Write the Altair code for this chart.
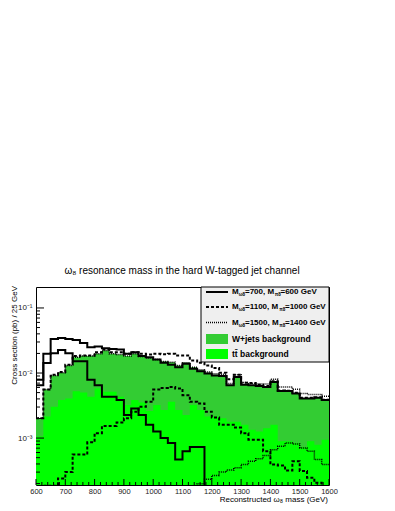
import altair as alt
import pandas as pd

# ---------------- data ----------------
bin_edges = list(range(600, 1625, 25))  # 40 bins of 25 GeV

wjets_total = [2.02e-3, 5.57e-3, 9.2e-3, 0.0101, 0.0131, 0.0175, 0.0182, 0.0182, 0.0197, 0.0221,
               0.0197, 0.0192, 0.0182, 0.0197, 0.0179, 0.0169, 0.0161, 0.0151, 0.0147, 0.0131,
               0.0144, 0.0123, 0.0110, 0.0101, 9.4e-3, 9.2e-3, 6.5e-3, 9.0e-3, 6.6e-3, 6.5e-3,
               6.3e-3, 6.1e-3, 7.3e-3, 5.3e-3, 5.3e-3, 4.85e-3, 4.06e-3, 4.06e-3, 4.16e-3, 3.84e-3]

ttbar = [1.06e-3, 2.14e-3, 3.03e-3, 3.84e-3, 4.06e-3, 5.26e-3, 5.02e-3, 4.31e-3, 5.77e-3, 5.14e-3,
         5.14e-3, 4.31e-3, 3.22e-3, 3.84e-3, 3.53e-3, 2.61e-3, 3.22e-3, 2.70e-3, 3.61e-3, 2.70e-3,
         2.27e-3, 3.22e-3, 2.70e-3, 2.14e-3, 2.14e-3, 2.02e-3, 1.79e-3, 1.79e-3, 1.60e-3, 1.34e-3,
         1.26e-3, 1.42e-3, 1.60e-3, 8.9e-4, 8.9e-4, 8.4e-4, 7.2e-4, 8.9e-4, 7.9e-4, 9.4e-4]

sig700_plus_bkg = [7.9e-3, 0.0197, 0.0333, 0.0345, 0.0333, 0.0322, 0.0290, 0.0249, 0.0255, 0.0240,
                   0.0235, 0.0229, 0.0197, 0.0209, 0.0182, 0.0175, 0.0161, 0.0144, 0.0134, 0.0123,
                   0.0139, 0.0116, 0.0106, 9.8e-3, 9.2e-3, 9.0e-3, 6.5e-3, 8.7e-3, 6.6e-3, 6.5e-3,
                   6.3e-3, 6.1e-3, 7.3e-3, 5.3e-3, 5.3e-3, 4.85e-3, 4.06e-3, 4.06e-3, 4.16e-3, 3.84e-3]

sig1100_plus_bkg = [2.02e-3, 5.57e-3, 9.4e-3, 0.0104, 0.0134, 0.0182, 0.0186, 0.0186, 0.0209, 0.0229,
                    0.0209, 0.0209, 0.0197, 0.0209, 0.0197, 0.0192, 0.0197, 0.0195, 0.0197, 0.0186,
                    0.0186, 0.0156, 0.0144, 0.0131, 0.0119, 0.0101, 8.0e-3, 9.4e-3, 7.1e-3, 7.0e-3,
                    6.6e-3, 6.3e-3, 7.5e-3, 5.4e-3, 5.35e-3, 4.96e-3, 4.16e-3, 4.16e-3, 4.25e-3, 3.88e-3]

sig1500_plus_bkg = [2.02e-3, 5.57e-3, 9.2e-3, 0.0101, 0.0131, 0.0175, 0.0182, 0.0182, 0.0197, 0.0221,
                    0.0197, 0.0192, 0.0182, 0.0197, 0.0179, 0.0169, 0.0161, 0.0151, 0.0147, 0.0131,
                    0.0144, 0.0123, 0.01124, 0.01036, 9.77e-3, 9.55e-3, 6.89e-3, 9.44e-3, 7.13e-3, 6.89e-3,
                    6.80e-3, 6.80e-3, 8.01e-3, 6.12e-3, 6.12e-3, 5.64e-3, 4.84e-3, 4.67e-3, 4.67e-3, 4.41e-3]

sig700 = [6.49e-3, 0.0142, 0.0202, 0.0226, 0.0202, 0.0152, 0.0152, 7.91e-3, 6.49e-3, 4.31e-3,
          4.31e-3, 3.84e-3, 2.27e-3, 2.86e-3, 2.27e-3, 1.60e-3, 1.26e-3, 1.0e-3, 8.39e-4, 4.68e-4,
          6.27e-4, 7.3e-4, 7.3e-4, 1e-6, 1e-6, 1e-6, 1e-6, 1e-6, 1e-6, 1e-6,
          1e-6, 1e-6, 1e-6, 1e-6, 1e-6, 1e-6, 1e-6, 1e-6, 1e-6, 1e-6]

sig1100 = [1e-6, 1.85e-4, 1.85e-4, 2.40e-4, 3.00e-4, 5.57e-4, 5.57e-4, 8.59e-4, 1.19e-3, 1.54e-3,
           1.54e-3, 1.73e-3, 2.02e-3, 2.55e-3, 3.03e-3, 3.61e-3, 5.57e-3, 5.91e-3, 6.12e-3, 5.77e-3,
           4.57e-3, 3.61e-3, 3.41e-3, 2.55e-3, 2.07e-3, 1.60e-3, 1.60e-3, 1.45e-3, 1.19e-3, 9.44e-4,
           9.44e-4, 6.27e-4, 3.93e-4, 3.79e-4, 3.18e-4, 4.41e-4, 3.11e-4, 2.46e-4, 2.06e-4, 1e-6]

sig1500 = [1e-6, 1e-6, 1e-6, 1e-6, 1e-6, 1e-6, 1e-6, 1e-6, 1e-6, 1e-6,
           1e-6, 1e-6, 1e-6, 1e-6, 1e-6, 1e-6, 1e-6, 1e-6, 1e-6, 1e-6,
           1e-6, 1e-6, 1.99e-4, 2.32e-4, 2.67e-4, 3.00e-4, 3.22e-4, 3.49e-4, 3.93e-4, 4.41e-4,
           4.79e-4, 5.38e-4, 6.64e-4, 7.46e-4, 8.39e-4, 8.11e-4, 7.04e-4, 6.27e-4, 4.68e-4, 3.93e-4]

x_ticks = [600, 700, 800, 900, 1000, 1100, 1200, 1300, 1400, 1500, 1600]
y_ticks = [1e-3, 1e-2, 1e-1]

legend_labels = ["W+jets background", "tt\u0304 background"]

# ---------------- layout ----------------
W, H = 293, 198
Y_DOM = [1.9e-4, 0.21]
FONT = "Liberation Sans"

xs = alt.Scale(domain=[600, 1600], nice=False, zero=False)
ys = alt.Scale(type="log", domain=Y_DOM, nice=False)

x_axis = alt.Axis(values=x_ticks, title=None, ticks=False, tickSize=0, domain=False, grid=False,
                  format="d", labelFontSize=7.5, labelFont=FONT, labelColor="#222", labelPadding=2,
                  labelFlush=False)
y_axis = alt.Axis(values=y_ticks, title=None, ticks=False, tickSize=0, domain=False, grid=False,
                  labelFontSize=8, labelFont=FONT, labelColor="#222", labelPadding=4,
                  labelExpr="datum.value < 0.005 ? '10⁻³' : (datum.value < 0.05 ? '10⁻²' : '10⁻¹')")


def X(f):
    return alt.X(f, type="quantitative", scale=xs, axis=x_axis)


def Y(f):
    return alt.Y(f, type="quantitative", scale=ys, axis=y_axis)


def step_df(vals):
    xv = bin_edges[:-1] + [bin_edges[-1]]
    vv = list(vals) + [vals[-1]]
    return pd.DataFrame({"m": xv, "v": vv, "base": [1e-5] * len(xv)})


def area(vals, color):
    return alt.Chart(step_df(vals)).mark_area(
        interpolate="step-after", color=color, clip=True, opacity=1
    ).encode(x=X("m"), y=Y("v"), y2="base:Q")


def line(vals, width, dash=None):
    kw = dict(interpolate="step-after", color="black", strokeWidth=width, clip=True)
    if dash:
        kw["strokeDash"] = dash
    return alt.Chart(step_df(vals)).mark_line(**kw).encode(x=X("m"), y=Y("v"))


DASH = [3, 2]
DOT = [1, 1]

one = pd.DataFrame({"k": [0]})

# inward tick marks ------------------------------------------------------------
y_minor = [k * 10.0 ** e for e in (-4, -3, -2) for k in range(2, 10) if Y_DOM[0] <= k * 10.0 ** e <= Y_DOM[1]]
x_minor = [m for m in range(620, 1600, 20) if m % 100 != 0]

ytick_major = alt.Chart(pd.DataFrame({"v": y_ticks})).mark_rule(color="black", strokeWidth=1).encode(
    y=Y("v"), x=alt.value(0), x2=alt.value(8))
ytick_minor = alt.Chart(pd.DataFrame({"v": y_minor})).mark_rule(color="black", strokeWidth=1).encode(
    y=Y("v"), x=alt.value(0), x2=alt.value(4))
xtick_major = alt.Chart(pd.DataFrame({"m": x_ticks})).mark_rule(color="black", strokeWidth=1).encode(
    x=X("m"), y=alt.value(H), y2=alt.value(H - 6))
xtick_minor = alt.Chart(pd.DataFrame({"m": x_minor})).mark_rule(color="black", strokeWidth=1).encode(
    x=X("m"), y=alt.value(H), y2=alt.value(H - 3))


def txt(text, x, y, size=8.5, bold=True, align="left", angle=0, baseline="middle"):
    return alt.Chart(one).mark_text(
        text=text, font=FONT, fontSize=size, fontWeight="bold" if bold else "normal",
        align=align, baseline=baseline, angle=angle, color="black"
    ).encode(x=alt.value(x), y=alt.value(y))


title = txt("ω₈ resonance mass in the hard W-tagged jet channel", 146, -16, size=10, bold=False, align="center")
xtitle = txt("Reconstructed ω₈ mass (GeV)", 292, 212.5, size=8, bold=False, align="right")
ytitle = txt("Cross section (pb) / 25 GeV", -21, -1, size=8, bold=False, align="right", angle=270)

# legend -------------------------------------------------------------------------
leg_box = alt.Chart(one).mark_rect(fill="#efefef", stroke="black", strokeWidth=1).encode(
    x=alt.value(165), x2=alt.value(W), y=alt.value(0), y2=alt.value(75))


def leg_line(y, width, dash=None):
    kw = dict(color="black", strokeWidth=width)
    if dash:
        kw["strokeDash"] = dash
    return alt.Chart(one).mark_rule(**kw).encode(x=alt.value(170), x2=alt.value(192), y=alt.value(y))


def leg_rect(y, color):
    return alt.Chart(one).mark_rect(color=color).encode(
        x=alt.value(170), x2=alt.value(192), y=alt.value(y - 5), y2=alt.value(y + 5))


def mass_label(y, mw, mp, x2, x3):
    return [
        txt("M", 196, y, size=8),
        txt("ω8", 202.8, y + 3, size=4.5),
        txt(f"={mw}, M", 209, y, size=8),
        txt("π8", x2, y + 3, size=4.5),
        txt(f"={mp} GeV", x3, y, size=8),
    ]


legend = [leg_box,
          leg_line(5, 2), leg_line(20, 2, DASH), leg_line(35.5, 1.5, DOT),
          leg_rect(52, "#33cc33"), leg_rect(67, "#00ff00"),
          txt(legend_labels[0], 196, 52), txt(legend_labels[1], 196, 67)]
legend += mass_label(5, 700, 600, 238.8, 244.5)
legend += mass_label(20, 1100, 1000, 243.3, 249)
legend += mass_label(35.5, 1500, 1400, 243.3, 249)

chart = alt.layer(
    area(wjets_total, "#33cc33"),
    area(ttbar, "#00ff00"),
    line(sig700_plus_bkg, 2),
    line(sig1100_plus_bkg, 2, DASH),
    line(sig1500_plus_bkg, 1.5, DOT),
    line(sig700, 2),
    line(sig1100, 2, DASH),
    line(sig1500, 1.5, DOT),
    ytick_major, ytick_minor, xtick_major, xtick_minor,
    title, xtitle, ytitle,
    *legend,
).properties(
    width=W, height=H,
    autosize=alt.AutoSizeParams(type="none"),
    padding={"left": 28, "top": 279, "right": 58, "bottom": 22},
).configure_view(stroke="black", strokeWidth=1)

chart.save("out.html", embed_options={"renderer": "svg", "actions": False})
